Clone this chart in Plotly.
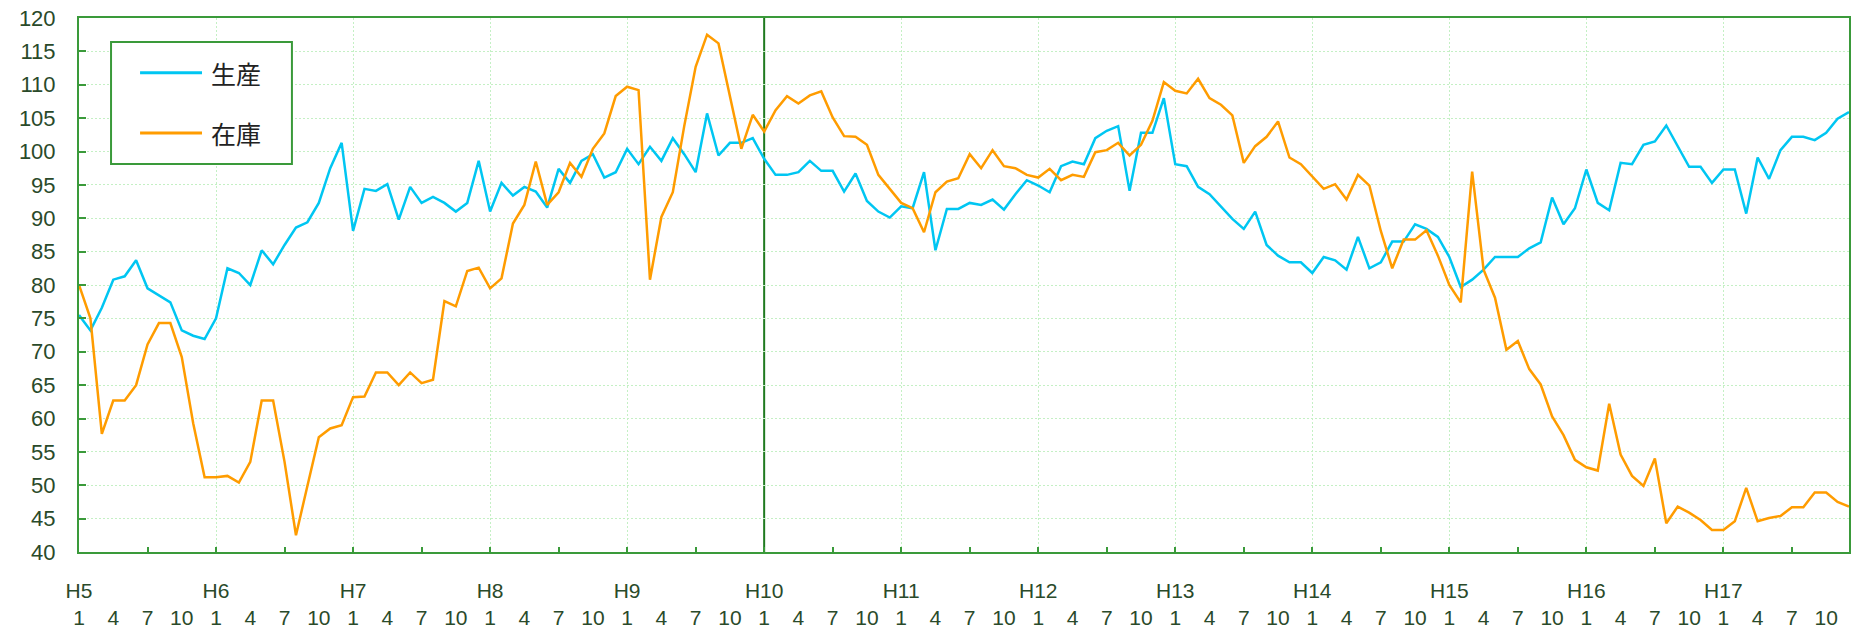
import plotly.graph_objects as go

# ---------------- data ----------------
years = ["H5", "H6", "H7", "H8", "H9", "H10", "H11", "H12", "H13", "H14", "H15", "H16", "H17"]
label_months = [1, 4, 7, 10]
marker_year = "H10"

production = [
    75.5, 73.2, 76.6, 80.8, 81.3, 83.7, 79.5, 78.4, 77.4, 73.2, 72.4, 71.9,
    75.0, 82.5, 81.8, 80.0, 85.2, 83.1, 86.0, 88.6, 89.4, 92.3, 97.5, 101.3,
    88.1, 94.4, 94.1, 95.1, 89.8, 94.7, 92.3, 93.2, 92.3, 91.0, 92.3, 98.6,
    91.0, 95.3, 93.4, 94.7, 94.0, 91.6, 97.4, 95.3, 98.6, 99.6, 96.1, 96.9,
    100.4, 98.1, 100.7, 98.6, 102.0, 99.6, 96.9, 105.7, 99.4, 101.3, 101.3, 102.0,
    98.9, 96.5, 96.5, 96.9, 98.6, 97.1, 97.1, 94.0, 96.7, 92.6, 91.0, 90.1,
    91.8, 91.5, 96.9, 85.2, 91.4, 91.4, 92.3, 92.0, 92.8, 91.3, 93.6, 95.7,
    94.9, 93.9, 97.8, 98.5, 98.1, 102.0, 103.1, 103.8, 94.1, 102.8, 102.8, 108.0,
    98.1, 97.8, 94.7, 93.6, 91.8, 89.9, 88.4, 91.0, 86.0, 84.4, 83.4, 83.4,
    81.8, 84.2, 83.7, 82.3, 87.2, 82.5, 83.4, 86.5, 86.5, 89.1, 88.4, 87.2,
    84.2, 79.7, 80.8, 82.3, 84.2, 84.2, 84.2, 85.5, 86.4, 93.1, 89.1, 91.5,
    97.3, 92.3, 91.2, 98.3, 98.1, 101.0, 101.5, 103.9, 100.7, 97.7, 97.7, 95.3,
    97.3, 97.3, 90.7, 99.1, 95.9, 100.2, 102.2, 102.2, 101.7, 102.8, 104.9, 105.9,
]

inventory = [
    80.0, 75.0, 57.7, 62.7, 62.7, 65.0, 71.1, 74.3, 74.3, 69.2, 59.3, 51.2,
    51.2, 51.4, 50.4, 53.5, 62.7, 62.7, 53.5, 42.5, 49.9, 57.2, 58.5, 59.0,
    63.2, 63.3, 66.9, 66.9, 65.0, 66.9, 65.3, 65.8, 77.6, 76.8, 82.1, 82.6,
    79.5, 81.0, 89.2, 92.0, 98.5, 92.0, 93.9, 98.3, 96.2, 100.4, 102.7, 108.3,
    109.7, 109.2, 80.8, 90.2, 93.9, 103.8, 112.7, 117.5, 116.2, 108.5, 100.4, 105.5,
    103.0, 106.2, 108.3, 107.2, 108.4, 109.0, 105.1, 102.3, 102.2, 101.0, 96.5, 94.4,
    92.3, 91.5, 87.9, 93.9, 95.5, 96.0, 99.6, 97.5, 100.2, 97.8, 97.5, 96.5,
    96.1, 97.4, 95.7, 96.5, 96.2, 99.9, 100.2, 101.3, 99.4, 101.0, 104.6, 110.4,
    109.1, 108.7, 110.9, 108.0, 107.0, 105.4, 98.3, 100.8, 102.2, 104.5, 99.1, 98.1,
    96.2, 94.4, 95.1, 92.8, 96.5, 94.9, 88.1, 82.5, 86.8, 86.8, 88.2, 84.4,
    80.0, 77.4, 97.0, 82.3, 78.1, 70.3, 71.6, 67.4, 65.1, 60.3, 57.5, 53.8,
    52.7, 52.2, 62.2, 54.6, 51.4, 49.9, 54.0, 44.3, 46.8, 45.9, 44.8, 43.3,
    43.3, 44.6, 49.6, 44.6, 45.1, 45.4, 46.7, 46.7, 48.9, 48.9, 47.5, 46.8,
]

series_names = ["生産", "在庫"]

# ---------------- styling ----------------
BLUE = "#00c6f2"
ORANGE = "#ff9c00"
BORDER = "#3a9a3a"
DARK = "#1f7a1f"
GRID = "#c4f0c4"
YFONT = dict(family="Liberation Sans, Arial, sans-serif", size=22, color="#2a4a2a")
XFONT = dict(family="Liberation Sans, Arial, sans-serif", size=21, color="#2a4a2a")

n = len(production)
x = list(range(n))
mx = years.index(marker_year) * 12

# tick labels: every 3 months, year label above month 1
label_vals, label_text = [], []
for yi, yname in enumerate(years):
    for m in label_months:
        idx = yi * 12 + m - 1
        if idx < n:
            label_vals.append(idx)
            label_text.append(f"{yname}<br>{m}" if m == 1 else f"\u00a0<br>{m}")

fig = go.Figure()
fig.add_trace(go.Scatter(x=x, y=production, mode="lines", name=series_names[0],
                         line=dict(color=BLUE, width=2.5), showlegend=False))
fig.add_trace(go.Scatter(x=x, y=inventory, mode="lines", name=series_names[1],
                         line=dict(color=ORANGE, width=2.5), showlegend=False))
# invisible copies so the overlaid label / tick axes get rendered
for ax in ("x2", "x3"):
    fig.add_trace(go.Scatter(x=x, y=production, xaxis=ax, yaxis="y", mode="lines",
                             opacity=0, hoverinfo="skip", showlegend=False,
                             line=dict(width=0)))

xr = [0, n - 1]
fig.update_layout(
    width=1856, height=631,
    margin=dict(l=79, r=7, t=18, b=79, autoexpand=False),
    paper_bgcolor="white", plot_bgcolor="white",
    showlegend=False,
    # main axis: yearly gridlines + frame
    xaxis=dict(range=xr, tickvals=[v for v in range(12, n, 12) if v != mx],
               showticklabels=False, ticks="",
               showgrid=True, gridcolor=GRID, gridwidth=1, griddash="2px,2px",
               showline=True, linecolor=BORDER, linewidth=2, mirror=True, zeroline=False,
               automargin=False),
    # label axis
    xaxis2=dict(overlaying="x", anchor="y", side="bottom", range=xr,
                tickvals=label_vals, ticktext=label_text, ticks="", tickangle=0,
                showgrid=False, showline=False, zeroline=False,
                tickfont=XFONT, ticklabelstandoff=24, automargin=False,
                ticklabeloverflow="allow"),
    # tick-mark axis (every 6 months)
    xaxis3=dict(overlaying="x", anchor="y", side="bottom", range=xr,
                tickvals=list(range(0, n, 6)), ticks="inside", ticklen=5, tickwidth=2,
                tickcolor=BORDER, showticklabels=False,
                showgrid=False, showline=False, zeroline=False, automargin=False),
    yaxis=dict(range=[40, 120], tickvals=list(range(40, 121, 5)), ticks="inside",
               ticklen=7, tickwidth=2, tickcolor=BORDER,
               showgrid=True, gridcolor=GRID, gridwidth=1, griddash="2px,2px",
               showline=True, linecolor=BORDER, linewidth=2, mirror=True, zeroline=False,
               tickfont=YFONT, ticklabelstandoff=17, automargin=False,
               ticklabeloverflow="allow"),
)

# marker line at start of H10
fig.add_shape(type="line", xref="x", yref="paper", x0=mx, x1=mx, y0=0, y1=1,
              line=dict(color=DARK, width=2), layer="below")

# legend box (drawn manually to match the long legend keys)
fig.add_shape(type="rect", xref="paper", yref="paper", x0=0.0181, x1=0.1203, y0=0.7266, y1=0.955,
              line=dict(color=BORDER, width=2), fillcolor="white", layer="above")
legend_rows = [(series_names[0], BLUE, 0.8976), (series_names[1], ORANGE, 0.7846)]
for name, col, yy in legend_rows:
    fig.add_shape(type="line", xref="paper", yref="paper", x0=0.0345, x1=0.0695, y0=yy, y1=yy,
                  line=dict(color=col, width=3), layer="above")
    fig.add_annotation(xref="paper", yref="paper", x=0.0735, y=yy, text=name, showarrow=False,
                       xanchor="left", yanchor="middle",
                       font=dict(family="Noto Sans CJK JP", size=25, color="#222222"))

# remove the default page margin so the figure fills the window exactly
fig.write_html("out.html",
               config={"displayModeBar": False},
               post_script="document.body.style.margin='0';document.body.style.overflow='hidden';")
